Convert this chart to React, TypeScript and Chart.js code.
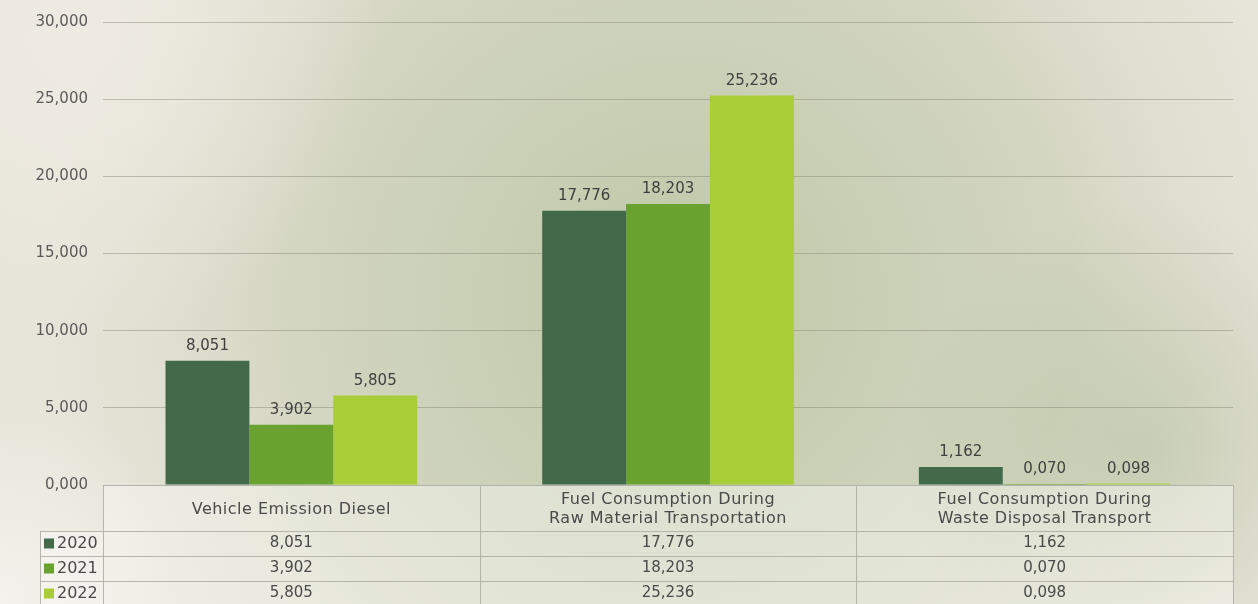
import React, { useEffect, useRef } from "react";
import { Chart, registerables } from "chart.js";

Chart.register(...registerables);

const categories: string[][] = [
  ["Vehicle Emission Diesel"],
  ["Fuel Consumption During", "Raw Material Transportation"],
  ["Fuel Consumption During", "Waste Disposal Transport"],
];
const seriesNames = ["2020", "2021", "2022"];
const values2020 = [8.051, 17.776, 1.162];
const values2021 = [3.902, 18.203, 0.07];
const values2022 = [5.805, 25.236, 0.098];
const seriesColors = ["#41694a", "#69a22f", "#a8cd37"];

const FONT = "'DejaVu Sans', sans-serif";
const fmt = (v: number) => v.toFixed(3).replace(".", ",");

const bgPlugin = {
  id: "paperBg",
  beforeDraw(chart: any) {
    const { ctx, width, height } = chart;
    ctx.save();
    ctx.fillStyle = "#e7e4d9";
    ctx.fillRect(0, 0, width, height);
    let g = ctx.createRadialGradient(680, 300, 20, 680, 300, 640);
    g.addColorStop(0, "rgba(150,172,120,0.5)");
    g.addColorStop(0.6, "rgba(165,182,138,0.3)");
    g.addColorStop(1, "rgba(200,205,180,0)");
    ctx.fillStyle = g;
    ctx.fillRect(0, 0, width, height);
    g = ctx.createRadialGradient(1150, 450, 10, 1150, 450, 250);
    g.addColorStop(0, "rgba(160,178,135,0.35)");
    g.addColorStop(1, "rgba(160,178,135,0)");
    ctx.fillStyle = g;
    ctx.fillRect(0, 0, width, height);
    g = ctx.createRadialGradient(0, 600, 10, 0, 600, 200);
    g.addColorStop(0, "rgba(245,243,238,0.9)");
    g.addColorStop(1, "rgba(245,243,238,0)");
    ctx.fillStyle = g;
    ctx.fillRect(0, 0, width, height);
    g = ctx.createRadialGradient(80, 40, 10, 80, 40, 300);
    g.addColorStop(0, "rgba(240,236,228,0.8)");
    g.addColorStop(1, "rgba(240,236,228,0)");
    ctx.fillStyle = g;
    ctx.fillRect(0, 0, width, height);
    ctx.restore();
  },
};

const labelPlugin = {
  id: "barLabels",
  afterDatasetsDraw(chart: any) {
    const { ctx } = chart;
    ctx.save();
    ctx.font = `15px ${FONT}`;
    ctx.fillStyle = "#404040";
    ctx.textAlign = "center";
    ctx.textBaseline = "bottom";
    chart.data.datasets.forEach((ds: any, i: number) => {
      const meta = chart.getDatasetMeta(i);
      meta.data.forEach((bar: any, j: number) => {
        ctx.fillText(fmt(ds.data[j]), bar.x, bar.y - 7);
      });
    });
    ctx.restore();
  },
};

const tablePlugin = {
  id: "dataTable",
  afterDraw(chart: any) {
    const { ctx, chartArea } = chart;
    const xs = chart.scales.x;
    const left = chartArea.left;
    const right = chartArea.right;
    const top = chartArea.bottom;
    const n = categories.length;
    const colW = (right - left) / n;
    const headerBottom = top + 46;
    const rowH = 25;
    const legendLeft = 40;
    const bottom = chart.height + 2;
    ctx.save();
    ctx.fillStyle = "rgba(248,248,244,0.45)";
    ctx.fillRect(left, top, right - left, bottom - top);
    ctx.fillRect(legendLeft, headerBottom, left - legendLeft, bottom - headerBottom);
    ctx.strokeStyle = "rgba(175,175,165,0.9)";
    ctx.lineWidth = 1;
    ctx.beginPath();
    ctx.moveTo(left, top + 0.5);
    ctx.lineTo(right, top + 0.5);
    for (let r = 0; r < seriesNames.length; r++) {
      const y = Math.round(headerBottom + r * rowH) + 0.5;
      ctx.moveTo(legendLeft, y);
      ctx.lineTo(right, y);
    }
    for (let c = 0; c <= n; c++) {
      const x = Math.round(left + c * colW) + 0.5;
      ctx.moveTo(x, top);
      ctx.lineTo(x, bottom);
    }
    ctx.moveTo(legendLeft + 0.5, headerBottom);
    ctx.lineTo(legendLeft + 0.5, bottom);
    ctx.stroke();

    ctx.fillStyle = "#4a4a4a";
    ctx.textAlign = "center";
    ctx.textBaseline = "middle";
    ctx.font = `16px ${FONT}`;
    (ctx as any).letterSpacing = "0.5px";
    categories.forEach((lines, c) => {
      const cx = xs.getPixelForValue(c);
      const mid = (top + headerBottom) / 2 + 1.5;
      const lh = 19;
      lines.forEach((t, k) => {
        ctx.fillText(t, cx, mid + (k - (lines.length - 1) / 2) * lh);
      });
    });
    (ctx as any).letterSpacing = "0px";
    ctx.font = `15px ${FONT}`;
    const series = [values2020, values2021, values2022];
    series.forEach((vals, r) => {
      const cy = headerBottom + r * rowH + rowH / 2;
      vals.forEach((v, c) => {
        ctx.fillText(fmt(v), xs.getPixelForValue(c), cy);
      });
      ctx.fillStyle = seriesColors[r];
      ctx.fillRect(legendLeft + 4, cy - 5, 10, 10);
      ctx.fillStyle = "#4a4a4a";
      ctx.textAlign = "left";
      ctx.font = `16px ${FONT}`;
      ctx.fillText(seriesNames[r], legendLeft + 17, cy);
      ctx.font = `15px ${FONT}`;
      ctx.textAlign = "center";
    });
    ctx.restore();
  },
};

export default function App() {
  const ref = useRef<HTMLCanvasElement>(null);
  useEffect(() => {
    if (!ref.current) return;
    const chart = new Chart(ref.current, {
      type: "bar",
      data: {
        labels: categories.map((c) => c.join(" ")),
        datasets: [values2020, values2021, values2022].map((d, i) => ({
          label: seriesNames[i],
          data: d,
          backgroundColor: seriesColors[i],
          borderWidth: 0,
          categoryPercentage: 0.668,
          barPercentage: 1,
        })),
      },
      options: {
        animation: false,
        responsive: false,
        maintainAspectRatio: false,
        layout: { padding: { left: 0, right: 25, top: 22, bottom: 119 } },
        plugins: { legend: { display: false }, tooltip: { enabled: false } },
        scales: {
          x: { display: false },
          y: {
            min: 0,
            max: 30,
            afterFit(scale: any) {
              scale.width = 103;
              scale.paddingTop = 0;
              scale.paddingBottom = 0;
            },
            border: { display: false },
            grid: { color: "rgba(130,130,115,0.45)", drawTicks: false },
            ticks: {
              stepSize: 5,
              padding: 15,
              color: "#5a5a5a",
              font: { family: FONT, size: 15 },
              callback: (v: any) => fmt(Number(v)),
            },
          },
        },
      },
      plugins: [bgPlugin, labelPlugin, tablePlugin],
    });
    return () => chart.destroy();
  }, []);
  return (
    <div style={{ position: "fixed", left: 0, top: 0, width: 1258, height: 604 }}>
      <canvas ref={ref} width={1258} height={604} style={{ display: "block" }} />
    </div>
  );
}
